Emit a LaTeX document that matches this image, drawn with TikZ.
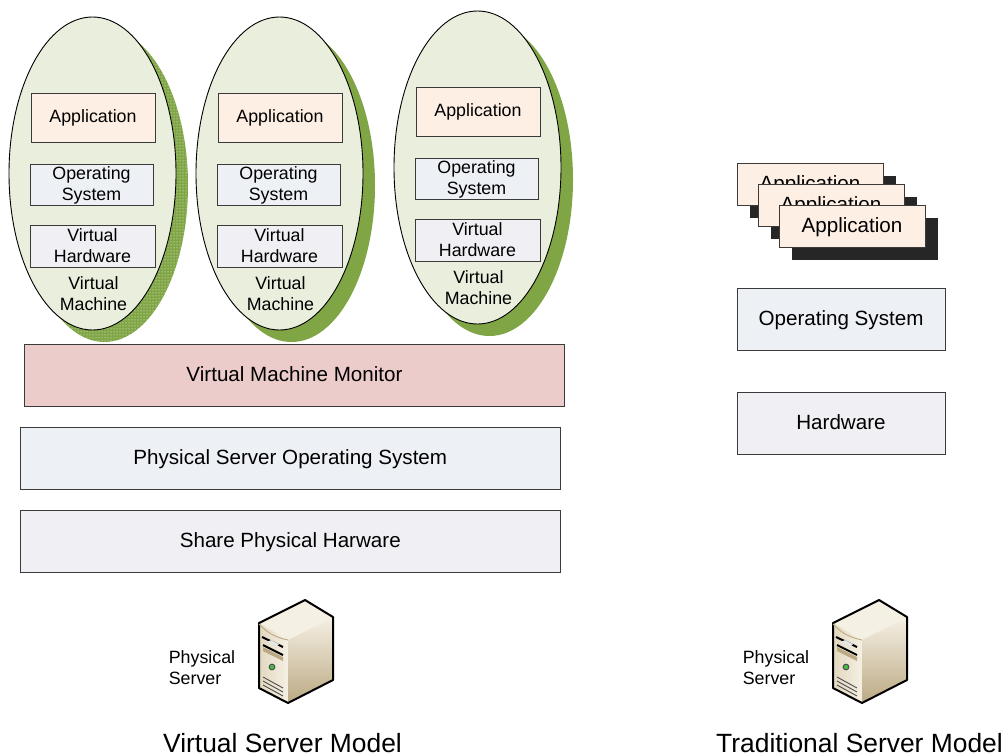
\documentclass[tikz,border=0pt]{standalone}
\usepackage{fontspec}
\setmainfont{Liberation Sans}
\usetikzlibrary{shapes.geometric,patterns,shadings}
\definecolor{vmgreen}{HTML}{E9EEDD}
\definecolor{shadegreen}{HTML}{7FA545}
\definecolor{appcolor}{HTML}{FDEFE4}
\definecolor{oscolor}{HTML}{EDF0F5}
\definecolor{hwcolor}{HTML}{F0EFF4}
\definecolor{monitorcolor}{HTML}{ECCBCB}
\definecolor{edgecolor}{HTML}{3A3A3A}
\definecolor{caselight}{HTML}{F5F0E4}
\definecolor{casemid}{HTML}{E3D8BF}
\definecolor{casedark}{HTML}{BBA983}
\tikzset{
  smalltext/.style={font=\fontsize{17.8}{21}\selectfont},
  bigtext/.style={font=\fontsize{20.6}{24}\selectfont,text height=15,text depth=3},
  titletext/.style={font=\fontsize{26.4}{30}\selectfont,inner sep=0pt},
  vmnode/.style={ellipse,draw=black,line width=.9pt,fill=vmgreen,inner sep=0pt,minimum width=167,minimum height=313},
  vmshade/.style={ellipse,fill=shadegreen,inner sep=0pt,minimum width=167,minimum height=313},
  box/.style={rectangle,draw=edgecolor,line width=.9pt,inner sep=0pt,align=center},
  appbox/.style={box,fill=appcolor,minimum width=124,minimum height=49,text height=13,text depth=2.6},
  osbox/.style={box,fill=oscolor,minimum width=123,minimum height=41,text depth=1.7},
  hwbox/.style={box,fill=hwcolor,minimum width=125,minimum height=42},
  widebox/.style={box,minimum width=540.5,minimum height=62},
  sidebox/.style={box,minimum width=208,minimum height=62},
  stackbox/.style={box,fill=appcolor,minimum width=146,minimum height=42},
  stackshade/.style={rectangle,fill=black!85,inner sep=0pt,minimum width=146,minimum height=42},
  server/.pic={
    \fill[caselight] (0,23) -- (46,0) -- (74,17) -- (29,40) -- cycle;
    \shade[left color=casemid,right color=caselight] (0,23) -- (29,40) -- (29,103) -- (0,88) -- cycle;
    \shade[top color=caselight,bottom color=casedark] (29,40) -- (74,17) -- (74,80) -- (29,103) -- cycle;
    \draw[line width=2pt,line join=round] (0,23) -- (46,0) -- (74,17) -- (74,80) -- (29,103) -- (0,88) -- cycle;
    \draw[casedark,line width=.9pt] (0,24) .. controls (9,34) and (19,38) .. (29,40);
    \draw[line width=2pt] (3,37) -- (24,47);
    \fill[white!90!black] (8,42) -- (17,47) -- (20,44) -- (12,40) -- cycle;
    \draw[line width=2pt] (4,45) -- (24,55);
    \fill[casedark] (4,47) -- (24,57) -- (24,61) -- (4,51) -- cycle;
    \fill[black!70] (13,67) circle (3.4);
    \fill[green!45!gray] (13,67) circle (2.2);
    \draw[black!70,line width=.9pt] (4,77) -- (24,88);
    \draw[black!70,line width=.9pt] (4,81) -- (24,92);
    \draw[black!70,line width=.9pt] (4,85) -- (24,96);
  }
}
\begin{document}
\begin{tikzpicture}[x=1pt,y=-1pt]
  \useasboundingbox (0,0) rectangle (1004,755);

  % first machine
  \node[vmshade,preaction={fill=shadegreen},pattern=dots,pattern color=white] (shadeA) at (104.5,185.5) {};
  \node[vmnode] (vmA) at (92.5,173.5) {};
  \node[appbox,smalltext] (appA) at (93,117.5) {Application};
  \node[osbox,smalltext] (osA) at (91.5,184.5) {Operating\\System};
  \node[hwbox,smalltext] (hwA) at (92.5,246) {Virtual\\Hardware};
  \node[smalltext,align=center] (labelA) at (93.5,293.5) {Virtual\\Machine};

  % second machine
  \node[vmshade] (shadeB) at (291.5,185.5) {};
  \node[vmnode] (vmB) at (279.5,173.5) {};
  \node[appbox,smalltext] (appB) at (280,117.5) {Application};
  \node[osbox,smalltext] (osB) at (278.5,184.5) {Operating\\System};
  \node[hwbox,smalltext] (hwB) at (279.5,246) {Virtual\\Hardware};
  \node[smalltext,align=center] (labelB) at (280.5,293.5) {Virtual\\Machine};

  % third machine
  \node[vmshade] (shadeC) at (489.5,179.5) {};
  \node[vmnode] (vmC) at (477.5,167.5) {};
  \node[appbox,smalltext] (appC) at (478,111.5) {Application};
  \node[osbox,smalltext] (osC) at (476.5,178.5) {Operating\\System};
  \node[hwbox,smalltext] (hwC) at (477.5,240) {Virtual\\Hardware};
  \node[smalltext,align=center] (labelC) at (478.5,287.5) {Virtual\\Machine};

  % shared layers
  \node[widebox,fill=monitorcolor,bigtext] (monitor) at (294.5,375) {Virtual Machine Monitor};
  \node[widebox,fill=oscolor,bigtext] (hostos) at (290.3,458.5) {Physical Server Operating System};
  \node[widebox,fill=hwcolor,bigtext] (sharehw) at (290.3,541.5) {Share Physical Harware};

  % traditional stack
  \node[stackshade] (shadeD) at (823,197) {};
  \node[stackbox,bigtext] (appD) at (810,184) {Application};
  \node[stackshade] (shadeE) at (844,218) {};
  \node[stackbox,bigtext] (appE) at (831,205) {Application};
  \node[stackshade] (shadeF) at (865,239) {};
  \node[stackbox,bigtext] (appF) at (852,226) {Application};
  \node[sidebox,fill=oscolor,bigtext] (sideos) at (841,319) {Operating System};
  \node[sidebox,fill=hwcolor,bigtext] (sidehw) at (841,423) {Hardware};

  % servers
  \pic at (259,600) {server};
  \node[smalltext,align=left] (serverA) at (202,668) {Physical\\Server};
  \pic at (833,600) {server};
  \node[smalltext,align=left] (serverB) at (776,668) {Physical\\Server};
  \node[titletext] (titleA) at (282.5,743) {Virtual Server Model};
  \node[titletext] (titleB) at (859.5,743) {Traditional Server Model};
\end{tikzpicture}
\end{document}
